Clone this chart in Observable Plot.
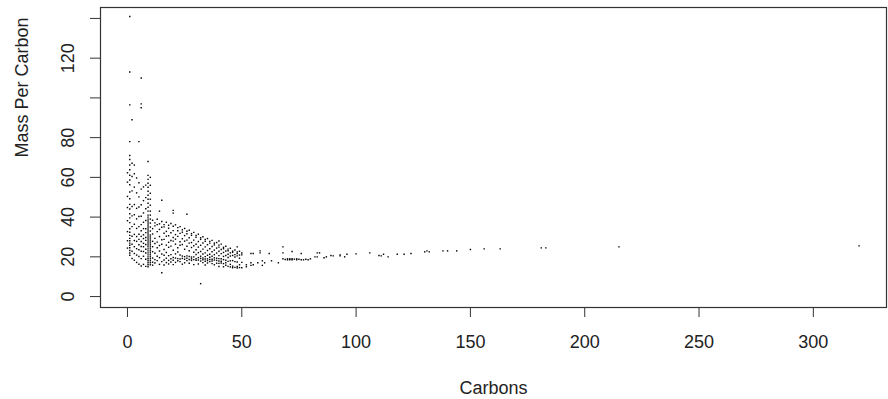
<!DOCTYPE html>
<html><head><meta charset="utf-8">
<script src="https://cdn.jsdelivr.net/npm/d3@7"></script>
<script src="https://cdn.jsdelivr.net/npm/@observablehq/plot@0.6"></script>
<style>
html,body{margin:0;padding:0;background:#fff;}
#chart svg{display:block;}
</style>
</head><body><div id="chart"></div>
<script>
// Carbons (integer columns) and the Mass Per Carbon values read in each column
const carbonColumns = [0,1,2,3,4,5,6,7,8,9,10,11,12,13,14,15,16,17,18,19,20,21,22,23,24,25,26,27,28,29,30,31,32,33,34,35,36,37,38,39,40,41,42,43,44,45,46,47,48,49,50,52,54,55,57,58,59,60,62,63,66,68,69,70,71,72,73,74,75,76,77,78,79,80,82,83,84,86,87,89,90,93,95,96,100,106,110,111,112,114,118,121,124,130,131,132,138,140,144,150,156,163,181,183,215,320];
const massColumns = [
  [62.3,57.6,50.4,44.8,38.2,32.7,28.1,24.4],
  [141,113,96.5,78,71,69,66.2,63.8,61.1,58.7,56.3,52.6,49.2,46.4,44.1,41.7,39.6,37.2,34.1,32.4,30.8,29.3,28.1,26.9,25.8,24.6,23.2,21.9,20.8],
  [89,67.1,60.4,53.2,45.3,40.6,35.2,30.4,26.3,22.8,19.2],
  [66.2,61.8,55.1,46.3,41.2,36.4,31.3,28.2,25.1,21.7,18.3],
  [59.7,52.2,44.4,39.1,34.3,30.2,27.8,24.1,20.9,17.2],
  [78,57.3,50.2,45.1,40.3,35.2,31.4,28.8,26.1,23.6,20.2,16.3],
  [110,97,95,54.1,46.2,40.4,36.2,33.1,30.3,27.7,25.2,22.8,19.1,15.4],
  [55.2,48.3,42.1,37.4,34.2,31.1,29.2,26.8,25.1,22.7,20.3,16.2],
  [56.1,49.8,44.2,38.3,34.1,32.2,29.7,28.3,26.2,23.8,21.9,18.8,15.2],
  [68,61,59,57,55,53,51,49,47,45,43,41,40,39,38,37,36,35,34,33,32,31,30,29,28,27,26,25,24,23,22,21,20,19,18,17,16,15],
  [60,56,52,49,46,43,41,39,37,35,33,31,30,29,28,27,26,25,24,23,22,21,20,19,18,17,16],
  [38.4,34.2,31.5,27.8,25.1,22.6,19.4,17.3,15.8],
  [37.1,35.6,29.3,26.7,21.8,18.6,16.9],
  [38.9,36.2,32.7,27.4,24.6,20.3,18.1],
  [43,36.6,33.8,30.2,25.7,22.9,19.6,16.2],
  [48.5,37.8,34.9,28.6,26.3,21.4,17.6,12],
  [36.2,35.1,31.9,28.8,23.7,20.8,18.4,15.9],
  [37.4,32.8,30.4,25.9,22.2,19.3,17.1],
  [35.9,34.4,30.6,27.3,24.8,20.6,18.2,16.4],
  [36.8,32.1,28.2,25.4,21.1,19.0,17.4],
  [43.4,42,35.4,33.2,29.7,27.9,23.3,19.7,18.3,16.1],
  [36.1,31.2,28.9,26.4,21.5,19.4,17.2],
  [34.7,33.1,30.3,24.6,22.4,19.1,18.0],
  [35.2,31.8,27.6,25.8,20.9,18.9,17.6],
  [33.6,32.4,29.1,26.2,20.4,19.2,16.3],
  [34.3,30.7,27.9,23.8,20.1,18.8,17.0],
  [41.4,32.9,31.6,28.4,25.3,20.5,19.3,18.1],
  [33.4,29.6,26.9,23.1,20.2,18.7,16.8],
  [31.7,30.8,27.2,24.7,19.9,19.0,18.2],
  [32.3,28.4,25.6,22.3,20.0,18.6,16.1],
  [30.8,29.9,26.3,23.6,21.2,19.1,18.3],
  [31.4,27.7,24.9,22.1,19.6,18.4,16.4],
  [29.6,28.8,25.8,22.7,20.3,19.2,17.9,6.5],
  [30.1,27.0,23.9,21.4,19.4,18.5,17.1],
  [28.7,27.8,25.0,22.0,20.1,18.9,17.8,15.9],
  [29.2,26.1,23.2,20.8,19.0,18.1,16.9],
  [27.8,26.9,24.1,21.3,19.8,18.7,17.6],
  [28.3,25.2,22.6,20.3,18.8,17.9,16.6],
  [26.9,26.0,23.4,21.1,19.5,18.4,16.0],
  [27.2,24.4,21.9,19.3,18.2,16.8],
  [28,25.9,24.9,22.8,20.6,19.1,17.9,16.7,15.1],
  [26.4,23.7,21.6,19.0,17.8,16.9],
  [24.8,24.1,22.2,20.2,18.6,16.6,15.0],
  [25.3,22.9,20.7,18.3,17.0,15.8],
  [23.9,23.1,21.3,19.7,17.7,15.2],
  [24.3,22.0,20.4,18.0,16.2,14.9],
  [22.9,22.3,20.7,18.1,15.3,14.5],
  [23.4,21.1,19.9,17.6,14.7],
  [25,22.4,21.6,20.5,17.4,15.1,14.4],
  [22.8,20.9,19.3,16.0,14.6],
  [21.9,21.0,17.2,14.5],
  [16,15],
  [21.7,17,15.7],
  [21.7,16],
  [17],
  [23,22],
  [18,15.7],
  [17],
  [21.7],
  [18],
  [17],
  [25,22,19],
  [18.7],
  [19,18.5],
  [19,18.5],
  [22.7,19,18.5],
  [18.8],
  [19,18.5],
  [18.8],
  [21.7,18.5],
  [18.5],
  [18.8],
  [18.5],
  [19],
  [20],
  [22,20],
  [22],
  [19.5],
  [20],
  [20.7],
  [20.5],
  [21,20.5],
  [20],
  [21.3],
  [21.5],
  [22],
  [20.7],
  [20.5],
  [21.3],
  [20],
  [21.3],
  [21.3],
  [21.7],
  [22.5],
  [23],
  [22.5],
  [23],
  [23],
  [23],
  [23.7],
  [24],
  [24],
  [24.5],
  [24.5],
  [25],
  [25.5]
];

const xTicks = [0,50,100,150,200,250,300];
const yTicks = [0,20,40,60,80,100,120,140];
const yTickLabels = [0,20,40,60,80,120];
const xTitle = "Carbons";
const yTitle = "Mass Per Carbon";

const points = carbonColumns.flatMap((c, i) => massColumns[i].map(m => ({carbons: c, mass: m})));

const FONT = "Liberation Sans, Arial, Helvetica, sans-serif";
const ink = "#222";

const chart = Plot.plot({
  width: 888,
  height: 399,
  marginLeft: 100,
  marginRight: 2,
  marginTop: 7,
  marginBottom: 92,
  style: {fontFamily: FONT, fontSize: "18px", color: ink, background: "#fff"},
  x: {domain: [-11.8, 332], label: null},
  y: {domain: [-5.5, 145.5], label: null},
  marks: [
    Plot.frame({stroke: "#333", strokeWidth: 1.2}),
    Plot.axisX({ticks: xTicks, tickSize: 10, tickPadding: 18, label: null, fontSize: 18, stroke: "#333"}),
    Plot.axisY({ticks: yTicks, tickSize: 10, tickFormat: () => "", label: null, stroke: "#333"}),
    Plot.axisY({ticks: yTickLabels, tickSize: 0, tickPadding: 32, rotate: -90, textAnchor: "middle", lineAnchor: "middle", label: null, fontSize: 18}),
    Plot.dot(points, {x: "carbons", y: "mass", r: 0.8, symbol: "square", fill: "black", stroke: null}),
    Plot.text([xTitle], {frameAnchor: "bottom", dy: 81, lineAnchor: "middle", fontSize: 18, fill: ink}),
    Plot.text([yTitle], {frameAnchor: "left", dx: -78, rotate: -90, lineAnchor: "middle", fontSize: 18, fill: ink})
  ]
});
document.getElementById("chart").appendChild(chart);
</script>
</body></html>
